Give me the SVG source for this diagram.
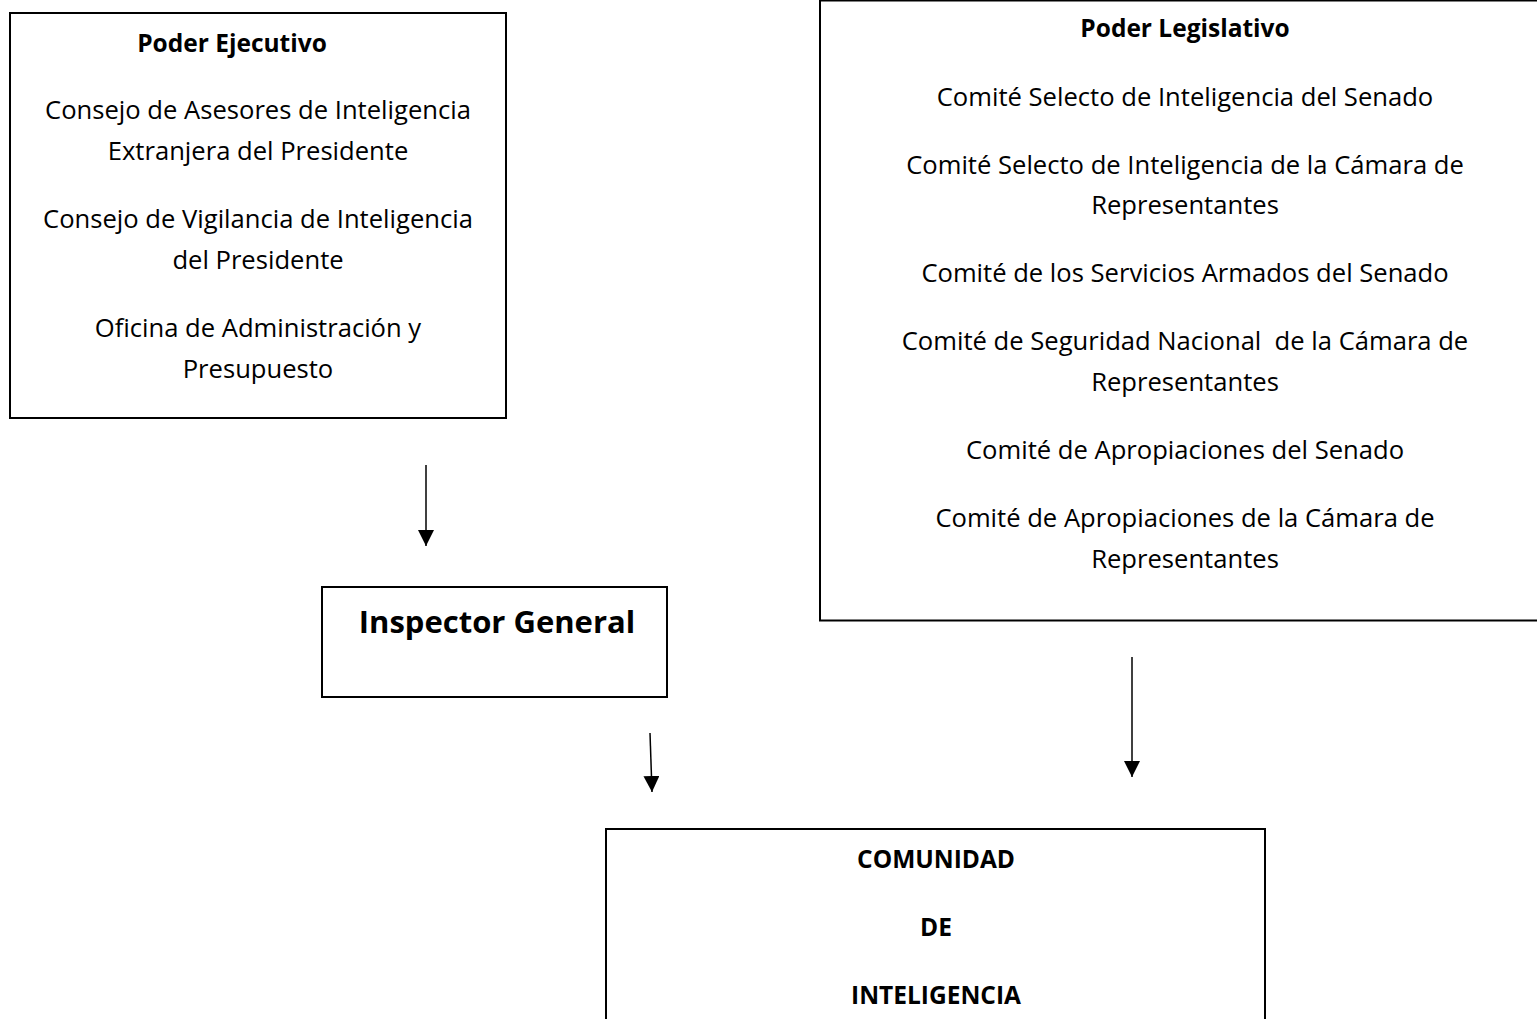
<svg xmlns="http://www.w3.org/2000/svg" width="1537" height="1019" viewBox="0 0 1537 1019">
<defs>
<style>
.box{fill:#fff;stroke:#000;stroke-width:2}
text{font-family:"Open Sans","Liberation Sans",sans-serif;fill:#000;text-anchor:middle}
.t{font-size:25.6px}
.h{font-size:24.5px;font-weight:bold}
.c{font-size:24.5px;font-weight:bold}
.ig{font-size:31px;font-weight:bold}
.edge{stroke:#000;stroke-width:1.5;fill:none}
</style>
<marker id="ah" viewBox="0 0 16 16" refX="16" refY="8" markerWidth="16" markerHeight="16" markerUnits="userSpaceOnUse" orient="auto">
<path d="M0,0 L16,8 L0,16 z" fill="#000"/>
</marker>
</defs>
<rect width="1537" height="1019" fill="#fff"/>
<g id="ejecutivo">
<rect class="box" x="10" y="13" width="496" height="405"/>
<text class="h" x="232" y="52">Poder Ejecutivo</text>
<text class="t" x="258" y="119">Consejo de Asesores de Inteligencia</text>
<text class="t" x="258" y="160">Extranjera del Presidente</text>
<text class="t" x="258" y="228">Consejo de Vigilancia de Inteligencia</text>
<text class="t" x="258" y="269">del Presidente</text>
<text class="t" x="258" y="337">Oficina de Administración y</text>
<text class="t" x="258" y="378">Presupuesto</text>
</g>
<g id="legislativo">
<rect class="box" x="820" y="0.5" width="720" height="620"/>
<text class="h" x="1185" y="37">Poder Legislativo</text>
<text class="t" x="1185" y="106">Comité Selecto de Inteligencia del Senado</text>
<text class="t" x="1185" y="174">Comité Selecto de Inteligencia de la Cámara de</text>
<text class="t" x="1185" y="214">Representantes</text>
<text class="t" x="1185" y="282">Comité de los Servicios Armados del Senado</text>
<text class="t" x="1185" y="350" xml:space="preserve">Comité de Seguridad Nacional  de la Cámara de</text>
<text class="t" x="1185" y="391">Representantes</text>
<text class="t" x="1185" y="459">Comité de Apropiaciones del Senado</text>
<text class="t" x="1185" y="527">Comité de Apropiaciones de la Cámara de</text>
<text class="t" x="1185" y="568">Representantes</text>
</g>
<g id="inspector">
<rect class="box" x="322" y="587" width="345" height="110"/>
<text class="ig" x="497" y="633">Inspector General</text>
</g>
<g id="comunidad">
<rect class="box" x="606" y="829" width="659" height="200"/>
<text class="c" x="936" y="868">COMUNIDAD</text>
<text class="c" x="936" y="936">DE</text>
<text class="c" x="936" y="1004">INTELIGENCIA</text>
</g>
<g id="connectors">
<line class="edge" x1="426" y1="465" x2="426" y2="546" marker-end="url(#ah)"/>
<line class="edge" x1="650" y1="733" x2="652" y2="792" marker-end="url(#ah)"/>
<line class="edge" x1="1132" y1="657" x2="1132" y2="777" marker-end="url(#ah)"/>
</g>
</svg>
